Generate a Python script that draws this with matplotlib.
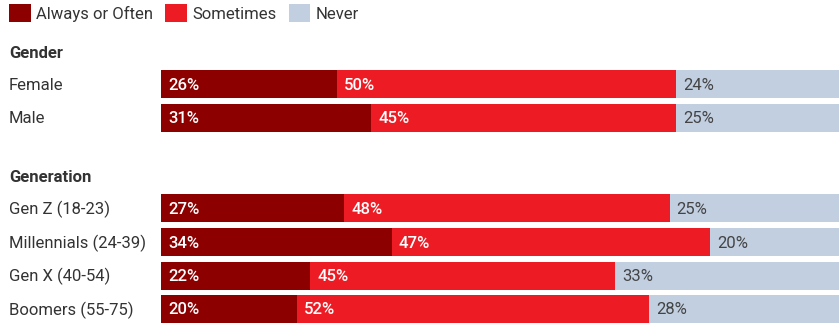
import matplotlib.pyplot as plt
from matplotlib.patches import Patch
from matplotlib.transforms import blended_transform_factory, offset_copy

plt.rcParams['font.family'] = ['Roboto', 'DejaVu Sans']

# data
groups = ['Gender', 'Generation']
categories = [['Female', 'Male'],
              ['Gen Z (18-23)', 'Millennials (24-39)', 'Gen X (40-54)', 'Boomers (55-75)']]
always = [[26, 31], [27, 34, 22, 20]]
sometimes = [[50, 45], [48, 47, 45, 52]]
never = [[24, 25], [25, 20, 33, 28]]
series_names = ['Always or Often', 'Sometimes', 'Never']

# layout (pixels from top)
W, H = 839, 323
header_y = [54, 178]
row_y = [[84, 117.5], [208, 242, 275.5, 309]]
bar_h = 28
colors = ['#8c0000', '#ed1c24', '#c1cfe1']
text_col = '#333333'
fs = 12

fig = plt.figure(figsize=(W / 100, H / 100), dpi=100)
ax = fig.add_axes([161 / W, 0, 678 / W, 1])
ax.set_xlim(0, 100)
ax.set_ylim(H, 0)
ax.axis('off')

lab = blended_transform_factory(fig.transFigure, ax.transData)
for g in range(len(groups)):
    ax.text(9 / W, header_y[g], groups[g], transform=lab, fontsize=fs,
            fontweight='bold', color=text_col, va='center', ha='left')
    for i, name in enumerate(categories[g]):
        y = row_y[g][i]
        ax.text(9 / W, y + 1, name, transform=lab, fontsize=fs, color=text_col,
                va='center', ha='left')
        left = 0
        for vals, c in zip([always, sometimes, never], colors):
            v = vals[g][i]
            ax.barh(y, v, left=left, height=bar_h, color=c, linewidth=0)
            tc = '#444444' if c == colors[2] else 'white'
            fw = 'normal' if c == colors[2] else 'medium'
            ax.text(left, y + 1, f'{v}%', fontsize=fs, color=tc, fontweight=fw,
                    va='center', ha='left',
                    transform=offset_copy(ax.transData, fig=fig, x=7, y=0, units='dots'))
            left += v

handles = [Patch(facecolor=c, edgecolor='none') for c in colors]
fig.legend(handles, series_names, loc='upper left', bbox_to_anchor=(5 / W, 1.0),
           ncol=3, frameon=False, fontsize=fs, handlelength=1.3, handleheight=1.3,
           handletextpad=0.3, columnspacing=0.75, borderaxespad=0.0, borderpad=0.25,
           labelcolor=text_col)

fig.savefig('out.png', dpi=100)
